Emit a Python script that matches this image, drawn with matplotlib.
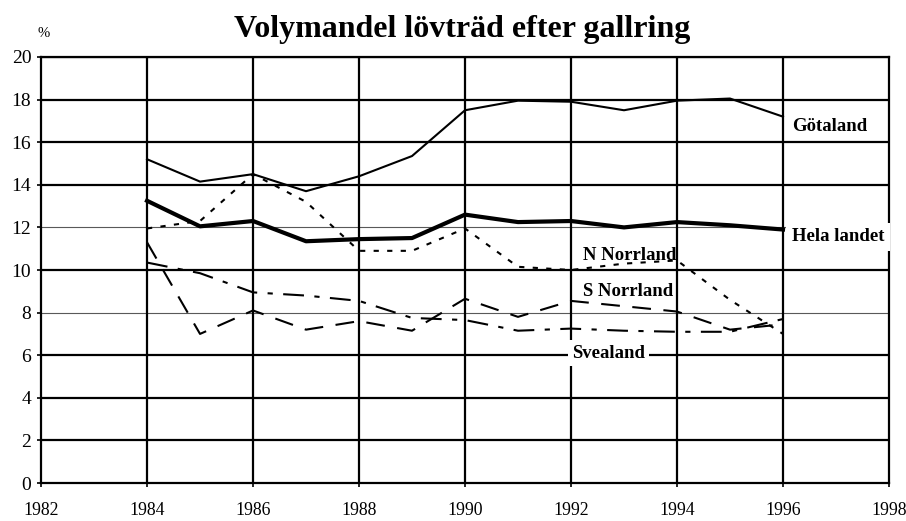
import matplotlib
matplotlib.use("Agg")
import matplotlib.pyplot as plt

plt.rcParams['font.family'] = ['Liberation Serif', 'DejaVu Serif']

# data
years = [1984, 1985, 1986, 1987, 1988, 1989, 1990, 1991, 1992, 1993, 1994, 1995, 1996]
gotaland = [15.2, 14.15, 14.5, 13.7, 14.4, 15.35, 17.5, 17.95, 17.9, 17.5, 17.95, 18.05, 17.2]
hela_landet = [13.25, 12.05, 12.3, 11.35, 11.45, 11.5, 12.6, 12.25, 12.3, 12.0, 12.25, 12.1, 11.9]
n_norrland = [11.95, 12.3, 14.5, 13.2, 10.9, 10.9, 11.95, 10.15, 10.0, 10.3, 10.45, 8.6, 7.0]
s_norrland = [11.3, 7.0, 8.1, 7.2, 7.6, 7.15, 8.65, 7.8, 8.55, 8.3, 8.05, 7.2, 7.45]
svealand = [10.35, 9.85, 8.95, 8.8, 8.55, 7.75, 7.65, 7.15, 7.25, 7.15, 7.1, 7.1, 7.7]

x_ticks = list(range(1982, 1999, 2))
y_ticks = list(range(0, 21, 2))

fig = plt.figure(figsize=(9.06, 5.21), dpi=100)
ax = fig.add_axes([0.0453, 0.0729, 0.9359, 0.8177])

# grid: the 8 and 12 lines look thin in the original
for y in y_ticks[1:]:
    thin = y in (8, 12)
    ax.axhline(y, color='0.35' if thin else 'black', lw=0.8 if thin else 1.6, zorder=1)
for x in x_ticks[1:-1]:
    ax.axvline(x, color='black', lw=1.6, zorder=1)

ax.plot(years, gotaland, color='black', lw=1.5, zorder=3)
ax.plot(years, hela_landet, color='black', lw=3.0, zorder=3)
ax.plot(years, n_norrland, color='black', lw=1.5, linestyle=(0, (2.5, 4)), zorder=3)
ax.plot(years, s_norrland, color='black', lw=1.5, linestyle=(0, (9, 6)), zorder=3)
ax.plot(years, svealand, color='black', lw=1.5, linestyle=(0, (10, 5, 2.5, 5)), zorder=3)

ax.set_xlim(1982, 1998)
ax.set_ylim(0, 20)
ax.set_xticks(x_ticks)
ax.set_yticks(y_ticks)
ax.tick_params(axis='both', length=3, width=1.2, color='black')
ax.tick_params(axis='x', labelsize=12.8, pad=10.5)
ax.tick_params(axis='y', labelsize=14, pad=4)
for s in ax.spines.values():
    s.set_linewidth(1.6)
    s.set_color('black')

# series labels
lab = dict(fontsize=13.5, fontweight='bold', va='center', ha='left', zorder=5)
ax.text(1996.17, 16.75, 'Götaland', **lab)
ax.text(1996.17, 11.55, 'Hela landet', clip_on=False,
        bbox=dict(facecolor='white', edgecolor='none', pad=4), **lab)
ax.text(1992.23, 10.7, 'N Norrland', **lab)
ax.text(1992.23, 8.98, 'S Norrland', **lab)
ax.text(1992.02, 6.1, 'Svealand', bbox=dict(facecolor='white', edgecolor='none', pad=3), **lab)

fig.text(0.041, 0.936, '%', fontsize=10.5, ha='left', va='center')
fig.text(0.51, 0.943, 'Volymandel lövträd efter gallring', fontsize=23, fontweight='bold',
         ha='center', va='center')

fig.savefig('out.png', dpi=100)
plt.close(fig)
